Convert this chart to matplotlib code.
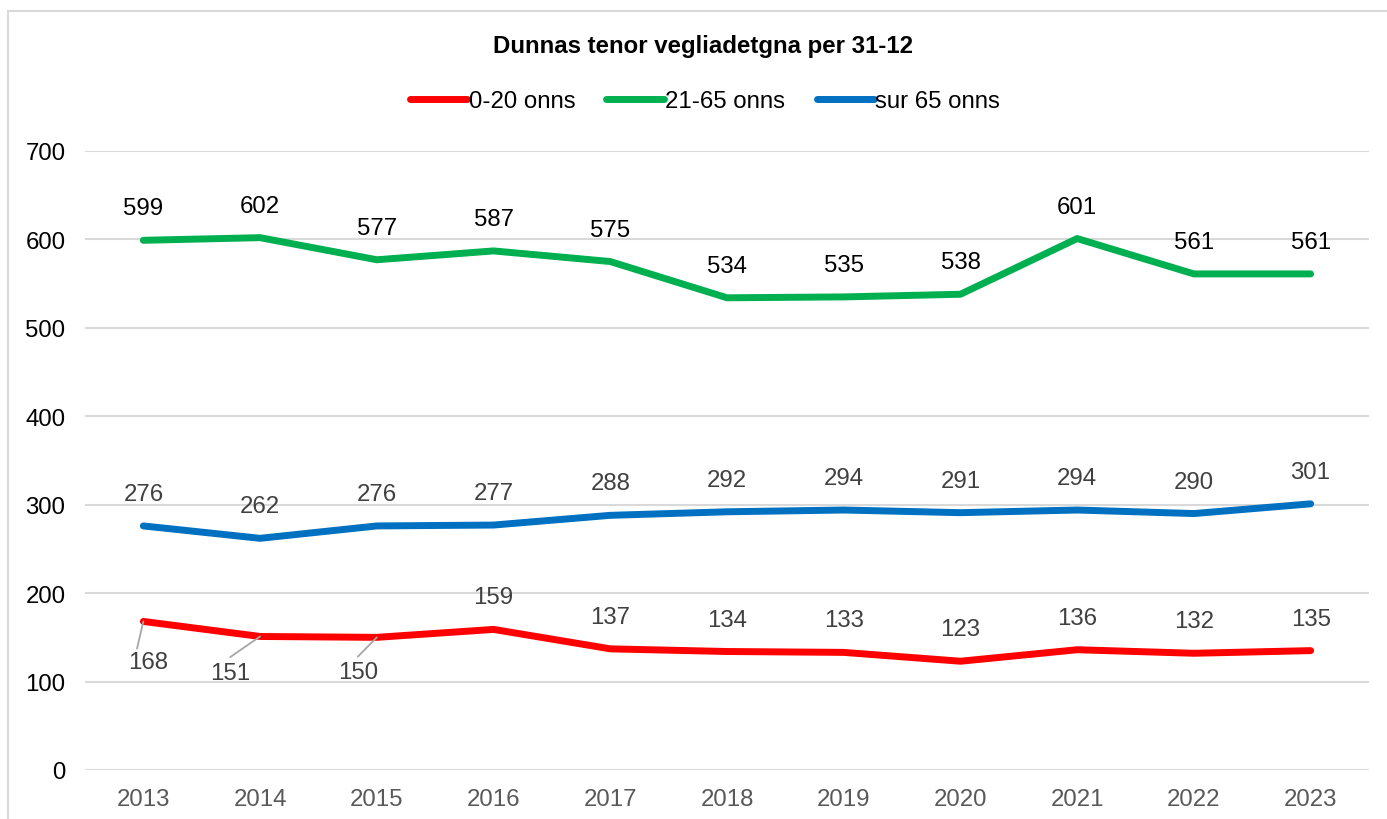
import matplotlib
matplotlib.use("Agg")
import matplotlib.pyplot as plt
from matplotlib.patches import Rectangle

plt.rcParams['font.family'] = ['Liberation Sans', 'DejaVu Sans']

years = ["2013", "2014", "2015", "2016", "2017", "2018", "2019", "2020", "2021", "2022", "2023"]
young = [168, 151, 150, 159, 137, 134, 133, 123, 136, 132, 135]
adult = [599, 602, 577, 587, 575, 534, 535, 538, 601, 561, 561]
senior = [276, 262, 276, 277, 288, 292, 294, 291, 294, 290, 301]
series_names = ["0-20 onns", "21-65 onns", "sur 65 onns"]
colors = ["#FF0000", "#00B050", "#0070C0"]
yticks = [0, 100, 200, 300, 400, 500, 600, 700]

W, H = 1387, 820
fig = plt.figure(figsize=(W / 100, H / 100), dpi=100)
fig.patch.set_facecolor("white")

# outer chart border (Excel-like)
fig.add_artist(Rectangle((8 / W, -0.05), 1.1, 1 - 12 / H + 0.05, transform=fig.transFigure,
                         fill=False, edgecolor="#D9D9D9", linewidth=1.5))

ax = fig.add_axes([85 / W, 1 - 771 / H, (1369 - 85) / W, (771 - 152) / H])
x = list(range(len(years)))

lines = []
for vals, c, name in zip([young, adult, senior], colors, series_names):
    ln, = ax.plot(x, vals, color=c, linewidth=5, solid_capstyle="round",
                  solid_joinstyle="round", label=name, zorder=3)
    lines.append(ln)

tick_fs = 17.3
ax.set_xlim(-0.5, len(years) - 0.5)
ax.set_ylim(0, 700)
ax.set_yticks(yticks)
ax.set_yticklabels([str(v) for v in yticks], fontsize=tick_fs, color="#000000")
ax.set_xticks(x)
ax.set_xticklabels(years, fontsize=tick_fs, color="#595959")
ax.tick_params(axis="both", length=0)
ax.tick_params(axis="y", pad=14)
ax.tick_params(axis="x", pad=13)
ax.grid(axis="y", color="#D9D9D9", linewidth=1.5)
ax.set_axisbelow(True)
for s in ax.spines.values():
    s.set_visible(False)

lab_fs = 17.3
off = 23
# green labels above (black)
for xi, v in zip(x, adult):
    ax.annotate(str(v), (xi, v), xytext=(0, off), textcoords="offset points",
                ha="center", va="center", fontsize=lab_fs, color="#000000")
# blue labels above (dark grey)
for xi, v in zip(x, senior):
    ax.annotate(str(v), (xi, v), xytext=(0, off), textcoords="offset points",
                ha="center", va="center", fontsize=lab_fs, color="#404040")
# red labels
below = {0: ((3.6, -29.5), (0.2, 1.0)), 1: ((-21.6, -26), (0.5, 1.2)), 2: ((-13.7, -25), (0.5, 1.2))}
for xi, v in zip(x, young):
    if xi in below:
        (dx, dy), rp = below[xi]
        ax.annotate(str(v), (xi, v), xytext=(dx, dy), textcoords="offset points",
                    ha="center", va="center", fontsize=lab_fs, color="#404040",
                    arrowprops=dict(arrowstyle="-", color="#A6A6A6", lw=1.3,
                                    shrinkA=0, shrinkB=0, relpos=rp))
    else:
        ax.annotate(str(v), (xi, v), xytext=(0, off), textcoords="offset points",
                    ha="center", va="center", fontsize=lab_fs, color="#404040")

fig.text(703 / W, 1 - 46 / H, "Dunnas tenor vegliadetgna per 31-12", ha="center", va="center",
         fontsize=17.3, fontweight="bold", color="#000000")

fig.legend(handles=lines, labels=series_names, loc="center", bbox_to_anchor=(705 / W, 1 - 102 / H),
           ncol=3, frameon=False, fontsize=17.3, handlelength=2.4, handletextpad=0.05,
           columnspacing=1.3)

fig.savefig("out.png", dpi=100)
